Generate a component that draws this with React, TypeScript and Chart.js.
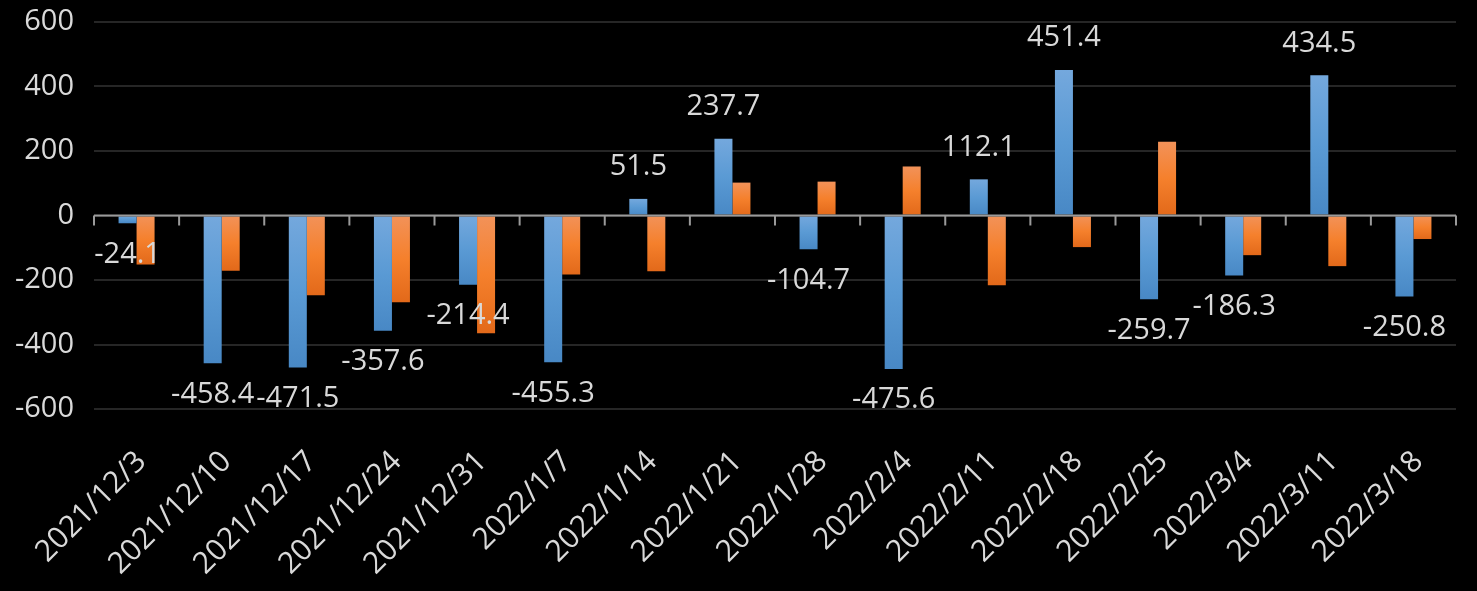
import { useEffect, useRef } from 'react';
import { Chart, registerables } from 'chart.js';

Chart.register(...registerables);

const categories = [
  '2021/12/3', '2021/12/10', '2021/12/17', '2021/12/24', '2021/12/31',
  '2022/1/7', '2022/1/14', '2022/1/21', '2022/1/28', '2022/2/4',
  '2022/2/11', '2022/2/18', '2022/2/25', '2022/3/4', '2022/3/11', '2022/3/18',
];
const seriesBlue = [
  -24.1, -458.4, -471.5, -357.6, -214.4, -455.3, 51.5, 237.7,
  -104.7, -475.6, 112.1, 451.4, -259.7, -186.3, 434.5, -250.8,
];
const seriesOrange = [
  -152, -171, -247, -269, -365, -183, -173, 102,
  105, 152, -216, -98, 229, -123, -157, -73,
];
const yMin = -600;
const yMax = 600;
const yStep = 200;

const FONT = "'Open Sans', 'Noto Sans', sans-serif";
const TEXT = '#d9d9d9';

function gradientFor(context: any, stops: string[]) {
  const chart = context.chart;
  const { chartArea, scales } = chart;
  if (!chartArea || context.type !== 'data' || !scales.y) return stops[1];
  const v = context.raw as number;
  const y0 = scales.y.getPixelForValue(0);
  const y1 = scales.y.getPixelForValue(v);
  const top = Math.min(y0, y1);
  const bot = Math.max(y0, y1);
  if (bot - top < 1) return stops[1];
  const g = chart.ctx.createLinearGradient(0, top, 0, bot);
  g.addColorStop(0, stops[0]);
  g.addColorStop(0.5, stops[1]);
  g.addColorStop(1, stops[2]);
  return g;
}

const axisPlugin = {
  id: 'zeroAxis',
  afterDatasetsDraw(chart: any) {
    const { ctx, chartArea, scales } = chart;
    const x = scales.x;
    const y = scales.y;
    const y0 = y.getPixelForValue(0);
    ctx.save();
    ctx.strokeStyle = '#9a9a9a';
    ctx.lineWidth = 2;
    ctx.beginPath();
    ctx.moveTo(chartArea.left, y0);
    ctx.lineTo(chartArea.right, y0);
    const n = categories.length;
    const bounds: number[] = [chartArea.left];
    for (let i = 1; i < n; i++) {
      bounds.push((x.getPixelForValue(i - 1) + x.getPixelForValue(i)) / 2);
    }
    bounds.push(chartArea.right);
    bounds.forEach((bx) => {
      ctx.moveTo(bx, y0);
      ctx.lineTo(bx, y0 + 10);
    });
    ctx.stroke();

    // data labels for the blue series
    const meta = chart.getDatasetMeta(0);
    ctx.fillStyle = TEXT;
    ctx.font = `29px ${FONT}`;
    ctx.textAlign = 'center';
    ctx.textBaseline = 'middle';
    meta.data.forEach((el: any, i: number) => {
      const v = seriesBlue[i];
      const ty = v >= 0 ? el.y - 32 : el.y + 31;
      ctx.fillText(v.toFixed(1), el.x, ty);
    });
    ctx.restore();
  },
};

export default function App() {
  const ref = useRef<HTMLCanvasElement | null>(null);
  useEffect(() => {
    if (!ref.current) return;
    document.body.style.background = '#000';
    const chart = new Chart(ref.current, {
      type: 'bar',
      data: {
        labels: categories,
        datasets: [
          {
            label: 'A',
            data: seriesBlue,
            backgroundColor: (c: any) => gradientFor(c, ['#74a8dd', '#5a9ad4', '#4888c5']),
            categoryPercentage: 0.423,
            barPercentage: 1,
          },
          {
            label: 'B',
            data: seriesOrange,
            backgroundColor: (c: any) => gradientFor(c, ['#f29259', '#f5802c', '#e2691a']),
            categoryPercentage: 0.423,
            barPercentage: 1,
          },
        ],
      },
      options: {
        animation: false,
        responsive: true,
        maintainAspectRatio: false,
        layout: { padding: { top: 14, right: 13, left: 0, bottom: 0 } },
        plugins: {
          legend: { display: false },
          tooltip: { enabled: false },
        },
        scales: {
          x: {
            grid: { display: false },
            border: { display: false },
            ticks: {
              color: TEXT,
              font: { family: FONT, size: 30 },
              minRotation: 45,
              maxRotation: 45,
              padding: 27,
              labelOffset: 5,
              autoSkip: false,
            },
            afterFit: (s: any) => {
              s.height = 174;
              s.paddingLeft = 0;
              s.paddingRight = 0;
            },
          },
          y: {
            min: yMin,
            max: yMax,
            grid: { color: '#262626', lineWidth: 2, drawTicks: false },
            border: { display: false },
            ticks: {
              stepSize: yStep,
              color: TEXT,
              font: { family: FONT, size: 29, lineHeight: 0.9 },
              padding: 20,
            },
            afterFit: (s: any) => {
              s.width = 86;
              s.paddingTop = 0;
              s.paddingBottom = 0;
            },
          },
        },
      },
      plugins: [axisPlugin],
    });
    return () => chart.destroy();
  }, []);
  return (
    <div style={{ position: 'relative', height: '575px', background: '#000' }}>
      <canvas ref={ref} />
    </div>
  );
}
